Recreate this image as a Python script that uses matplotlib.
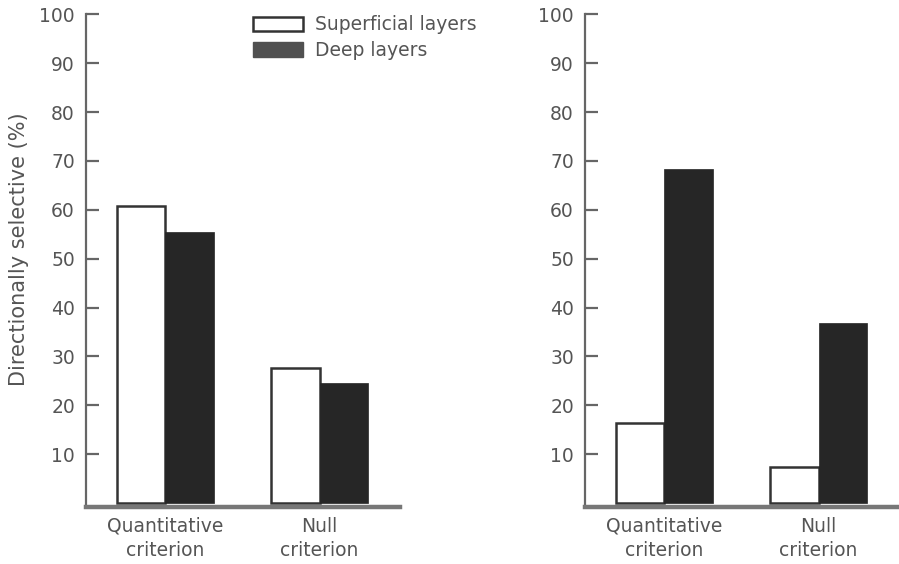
import matplotlib
matplotlib.use("Agg")
import matplotlib.pyplot as plt
import numpy as np
from matplotlib.patches import Patch

# 読み取った値 (%)
categories = ["Quantitative\ncriterion", "Null\ncriterion"]
left_superficial = [60.8, 27.6]
left_deep = [55.5, 24.6]
right_superficial = [16.4, 7.4]
right_deep = [68.4, 36.8]
yticks = [10, 20, 30, 40, 50, 60, 70, 80, 90, 100]
legend_labels = ["Superficial layers", "Deep layers"]
ylabel = "Directionally selective (%)"

TXT = "#555555"
AXC = "#666666"
DARK = "#262626"

plt.rcParams["font.family"] = ["DejaVu Sans"]
plt.rcParams["font.size"] = 13.5

fig = plt.figure(figsize=(8.99, 5.64), dpi=100)
W, H = 899, 564


def px_axes(x0, width):
    # 0 の位置 y=503px、100 の位置 y=14px
    bottom = 507
    top = 14.3
    return fig.add_axes([x0 / W, 1 - bottom / H, width / W, (bottom - top) / H])


def draw_panel(ax, sup, deep):
    x = np.arange(len(categories))
    w = 0.315
    ax.bar(x - w / 2, sup, w, color="white", edgecolor="#333333", linewidth=1.8)
    ax.bar(x + w / 2, deep, w, color=DARK, edgecolor=DARK, linewidth=0.5)
    ax.set_xlim(-0.513, 1.52)
    ax.set_ylim(-0.8, 100)
    ax.set_yticks(yticks)
    ax.set_xticks(x)
    ax.set_xticklabels(categories, linespacing=1.35)
    for s in ["top", "right"]:
        ax.spines[s].set_visible(False)
    ax.spines["left"].set_color(AXC)
    ax.spines["left"].set_linewidth(1.6)
    ax.spines["left"].set_bounds(-0.8, 100)
    ax.spines["bottom"].set_color("#777777")
    ax.spines["bottom"].set_linewidth(3.2)
    ax.tick_params(axis="y", direction="in", length=9.5, width=1.6,
                   color=AXC, labelcolor=TXT, pad=8)
    ax.tick_params(axis="x", length=0, labelcolor=TXT, pad=7)


ax1 = px_axes(86, 314)
draw_panel(ax1, left_superficial, left_deep)
ax2 = px_axes(585, 314)
draw_panel(ax2, right_superficial, right_deep)

fig.text(19 / W, 1 - 249 / H, ylabel, rotation=90, ha="center", va="center",
         color=TXT, fontsize=15)

handles = [Patch(facecolor="white", edgecolor="#333333", linewidth=1.8),
           Patch(facecolor="#505050", edgecolor="#505050")]
fig.legend(handles, legend_labels, loc="upper left",
           bbox_to_anchor=(244 / W, 1 - 6 / H), frameon=False, borderpad=0,
           handlelength=2.67, handleheight=0.8, handletextpad=0.64,
           labelspacing=0.35, labelcolor=TXT)

fig.savefig("out.png", dpi=100)
